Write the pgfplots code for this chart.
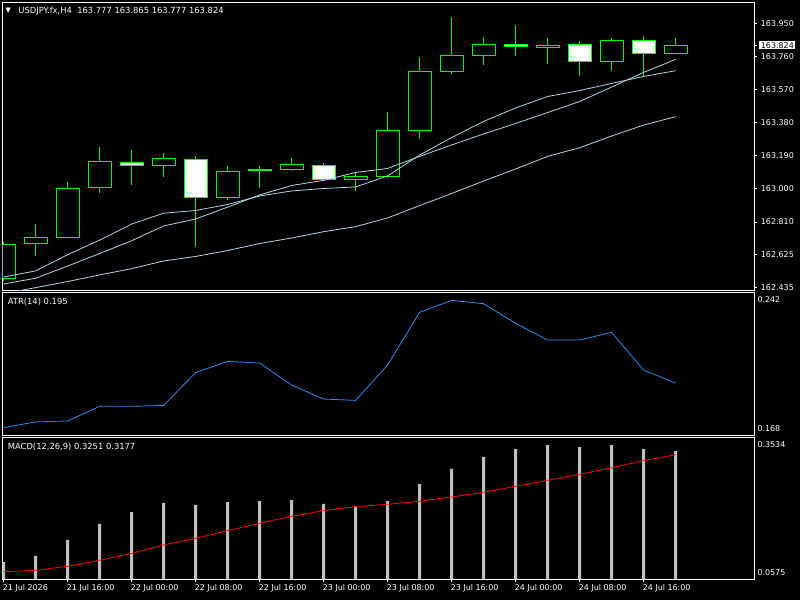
\documentclass[border=0pt]{standalone}
\usepackage{pgfplots}
\pgfplotsset{compat=1.18}
\usepackage{fontspec}
\setmainfont{DejaVu Sans}
\definecolor{malite}{RGB}{173,216,230}
\definecolor{atrblue}{RGB}{30,144,255}
\definecolor{silv}{RGB}{192,192,192}
\definecolor{lime}{RGB}{0,255,0}
\tikzset{lbl/.style={white, anchor=west, inner sep=0pt, font=\fontsize{8.4}{10}\selectfont}}
\begin{document}
\begin{tikzpicture}[font=\fontsize{8}{9.6}\selectfont]
\useasboundingbox (0,0) rectangle (800bp,-600bp);
\fill[black] (0,0) rectangle (800bp,-600bp);
\pgfplotsset{
  mt/.style={scale only axis, width=751.8bp, anchor=north west,
    axis line style={white, line width=0.8bp},
    xmin=-0.034, xmax=23.46, clip mode=individual},
  body/.style={draw=lime, line width=0.8bp, fill=#1},
}
% ---------------- main price panel (USDJPY H4) ----------------
\begin{axis}[mt, at={(2.5bp,-2.3bp)}, height=287.7bp,
  ymin=162.4195, ymax=164.0705, xtick=\empty,
  ytick={162.435,162.625,162.810,163.000,163.190,163.380,163.570,163.760,163.950},
  yticklabels={162.435,162.625,162.810,163.000,163.190,163.380,163.570,163.760,163.950},
  ytick pos=right, yticklabel pos=right, ytick align=outside,
  major tick length=3bp, ytick style={white, line width=0.8bp},
  yticklabel style={white, anchor=west, inner sep=0pt, xshift=3.4bp},
  extra y ticks={163.824}, extra y tick labels={163.824},
  extra y tick style={yticklabel style={fill=white, text=black, inner xsep=1.5pt, inner ysep=1.2pt, xshift=-1.5bp}},
  unbounded coords=jump,
]
% wicks: low to high of each H4 bar
\addplot[lime, line width=0.8bp] coordinates {
(0,162.473)(0,162.697)(0,nan) (1,162.616)(1,162.798)(1,nan) (2,162.722)(2,163.039)(2,nan)
(3,162.974)(3,163.240)(3,nan) (4,163.024)(4,163.223)(4,nan) (5,163.070)(5,163.206)(5,nan)
(6,162.668)(6,163.188)(6,nan) (7,162.936)(7,163.131)(7,nan) (8,163.007)(8,163.131)(8,nan)
(9,163.104)(9,163.177)(9,nan) (10,163.043)(10,163.147)(10,nan) (11,162.989)(11,163.095)(11,nan)
(12,163.065)(12,163.441)(12,nan) (13,163.288)(13,163.757)(13,nan) (14,163.661)(14,163.986)(14,nan)
(15,163.712)(15,163.871)(15,nan) (16,163.764)(16,163.940)(16,nan) (17,163.718)(17,163.866)(17,nan)
(18,163.650)(18,163.848)(18,nan) (19,163.675)(19,163.866)(19,nan) (20,163.640)(20,163.877)(20,nan)
(21,163.777)(21,163.865)};
% bodies: open/close (black = up bar, white = down bar)
\addplot[body=black] coordinates {(-0.36,162.487)(0.36,162.487)(0.36,162.684)(-0.36,162.684)} -- cycle;
\addplot[body=black] coordinates {(0.64,162.687)(1.36,162.687)(1.36,162.722)(0.64,162.722)} -- cycle;
\addplot[body=black] coordinates {(1.64,162.722)(2.36,162.722)(2.36,163.003)(1.64,163.003)} -- cycle;
\addplot[body=black] coordinates {(2.64,163.009)(3.36,163.009)(3.36,163.158)(2.64,163.158)} -- cycle;
\addplot[body=white] coordinates {(3.64,163.152)(4.36,163.152)(4.36,163.135)(3.64,163.135)} -- cycle;
\addplot[body=black] coordinates {(4.64,163.133)(5.36,163.133)(5.36,163.175)(4.64,163.175)} -- cycle;
\addplot[body=white] coordinates {(5.64,163.170)(6.36,163.170)(6.36,162.951)(5.64,162.951)} -- cycle;
\addplot[body=black] coordinates {(6.64,162.951)(7.36,162.951)(7.36,163.101)(6.64,163.101)} -- cycle;
\addplot[body=black] coordinates {(7.64,163.105)(8.36,163.105)(8.36,163.111)(7.64,163.111)} -- cycle;
\addplot[body=black] coordinates {(8.64,163.112)(9.36,163.112)(9.36,163.141)(8.64,163.141)} -- cycle;
\addplot[body=white] coordinates {(9.64,163.135)(10.36,163.135)(10.36,163.055)(9.64,163.055)} -- cycle;
\addplot[body=black] coordinates {(10.64,163.055)(11.36,163.055)(11.36,163.072)(10.64,163.072)} -- cycle;
\addplot[body=black] coordinates {(11.64,163.072)(12.36,163.072)(12.36,163.336)(11.64,163.336)} -- cycle;
\addplot[body=black] coordinates {(12.64,163.336)(13.36,163.336)(13.36,163.675)(12.64,163.675)} -- cycle;
\addplot[body=black] coordinates {(13.64,163.675)(14.36,163.675)(14.36,163.766)(13.64,163.766)} -- cycle;
\addplot[body=black] coordinates {(14.64,163.766)(15.36,163.766)(15.36,163.829)(14.64,163.829)} -- cycle;
\addplot[body=white] coordinates {(15.64,163.831)(16.36,163.831)(16.36,163.820)(15.64,163.820)} -- cycle;
\addplot[body=black] coordinates {(16.64,163.812)(17.36,163.812)(17.36,163.824)(16.64,163.824)} -- cycle;
\addplot[body=white] coordinates {(17.64,163.829)(18.36,163.829)(18.36,163.732)(17.64,163.732)} -- cycle;
\addplot[body=black] coordinates {(18.64,163.732)(19.36,163.732)(19.36,163.852)(18.64,163.852)} -- cycle;
\addplot[body=white] coordinates {(19.64,163.852)(20.36,163.852)(20.36,163.778)(19.64,163.778)} -- cycle;
\addplot[body=black] coordinates {(20.64,163.777)(21.36,163.777)(21.36,163.824)(20.64,163.824)} -- cycle;
% moving averages
\addplot[malite, line width=0.8bp] coordinates {(0,162.494)(1,162.529)(2,162.622)(3,162.706)(4,162.798)(5,162.860)(6,162.876)(7,162.910)(8,162.959)(9,162.988)(10,163.002)(11,163.011)(12,163.074)(13,163.194)(14,163.294)(15,163.387)(16,163.464)(17,163.530)(18,163.564)(19,163.605)(20,163.645)(21,163.678)};
\addplot[malite, line width=0.8bp] coordinates {(0,162.454)(1,162.487)(2,162.557)(3,162.629)(4,162.702)(5,162.787)(6,162.827)(7,162.895)(8,162.965)(9,163.019)(10,163.049)(11,163.094)(12,163.117)(13,163.186)(14,163.252)(15,163.315)(16,163.375)(17,163.438)(18,163.501)(19,163.584)(20,163.668)(21,163.743)};
\addplot[malite, line width=0.8bp] coordinates {(0,162.398)(1,162.433)(2,162.468)(3,162.506)(4,162.542)(5,162.586)(6,162.612)(7,162.646)(8,162.686)(9,162.718)(10,162.754)(11,162.783)(12,162.833)(13,162.904)(14,162.973)(15,163.045)(16,163.114)(17,163.186)(18,163.236)(19,163.303)(20,163.366)(21,163.414)};
\end{axis}
% ---------------- ATR panel ----------------
\begin{axis}[mt, at={(2.5bp,-292.7bp)}, height=142.3bp,
  ymin=0.168, ymax=0.242, xtick=\empty, ytick=\empty]
\addplot[atrblue, line width=0.8bp] coordinates {(0,0.1718)(1,0.1748)(2,0.1753)(3,0.1829)(4,0.1829)(5,0.1834)(6,0.2004)(7,0.2063)(8,0.2054)(9,0.1940)(10,0.1867)(11,0.1860)(12,0.2044)(13,0.2318)(14,0.2380)(15,0.2363)(16,0.2261)(17,0.2174)(18,0.2174)(19,0.2214)(20,0.2018)(21,0.1950)};
\node[lbl] at (rel axis cs:0,1) [xshift=5.2bp, yshift=-9bp] {ATR(14) 0.195};
\node[white, anchor=west, inner sep=0pt] at (rel axis cs:1,1) [xshift=3bp, yshift=-6.6bp] {0.242};
\node[white, anchor=west, inner sep=0pt] at (rel axis cs:1,0) [xshift=3bp, yshift=6.7bp] {0.168};
\end{axis}
% ---------------- MACD panel ----------------
\begin{axis}[mt, at={(2.5bp,-437.7bp)}, height=141.3bp,
  ymin=0.0575, ymax=0.3534, ytick=\empty,
  xtick={0,2,4,6,8,10,12,14,16,18,20},
  xticklabels={21 Jul 2026,21 Jul 16:00,22 Jul 00:00,22 Jul 08:00,22 Jul 16:00,23 Jul 00:00,23 Jul 08:00,23 Jul 16:00,24 Jul 00:00,24 Jul 08:00,24 Jul 16:00},
  xtick pos=bottom, xtick align=outside, major tick length=3bp,
  xtick style={white, line width=0.8bp},
  xticklabel style={white, anchor=north west, inner sep=0pt, xshift=-1bp, yshift=-1.8bp},
]
\addplot[ybar, bar width=3bp, bar shift=0pt, fill=silv, draw=none] coordinates {(0,0.0931)(1,0.1057)(2,0.1392)(3,0.1727)(4,0.1978)(5,0.2167)(6,0.2125)(7,0.2187)(8,0.2208)(9,0.2229)(10,0.2146)(11,0.2097)(12,0.2208)(13,0.2564)(14,0.2879)(15,0.3130)(16,0.3297)(17,0.3381)(18,0.3339)(19,0.3381)(20,0.3297)(21,0.3251)};
\addplot[red, line width=0.8bp] coordinates {(0,0.0728)(1,0.0757)(2,0.0841)(3,0.0967)(4,0.1113)(5,0.1287)(6,0.1427)(7,0.1586)(8,0.1741)(9,0.1888)(10,0.2005)(11,0.2089)(12,0.2139)(13,0.2202)(14,0.2292)(15,0.2391)(16,0.2516)(17,0.2642)(18,0.2768)(19,0.2906)(20,0.3052)(21,0.3177)};
\node[lbl] at (rel axis cs:0,1) [xshift=5.2bp, yshift=-9bp] {MACD(12,26,9) 0.3251 0.3177};
\node[white, anchor=west, inner sep=0pt] at (rel axis cs:1,1) [xshift=3bp, yshift=-7.3bp] {0.3534};
\node[white, anchor=west, inner sep=0pt] at (rel axis cs:1,0) [xshift=3bp, yshift=6.7bp] {0.0575};
\end{axis}
% header
\node[white, inner sep=0pt, font=\fontsize{7}{7}\selectfont] at (8.4bp,-11bp) {▼};
\node[lbl] at (18.3bp,-10.7bp) {USDJPY.fx,H4\ \ 163.777 163.865 163.777 163.824};
\end{tikzpicture}
\end{document}
